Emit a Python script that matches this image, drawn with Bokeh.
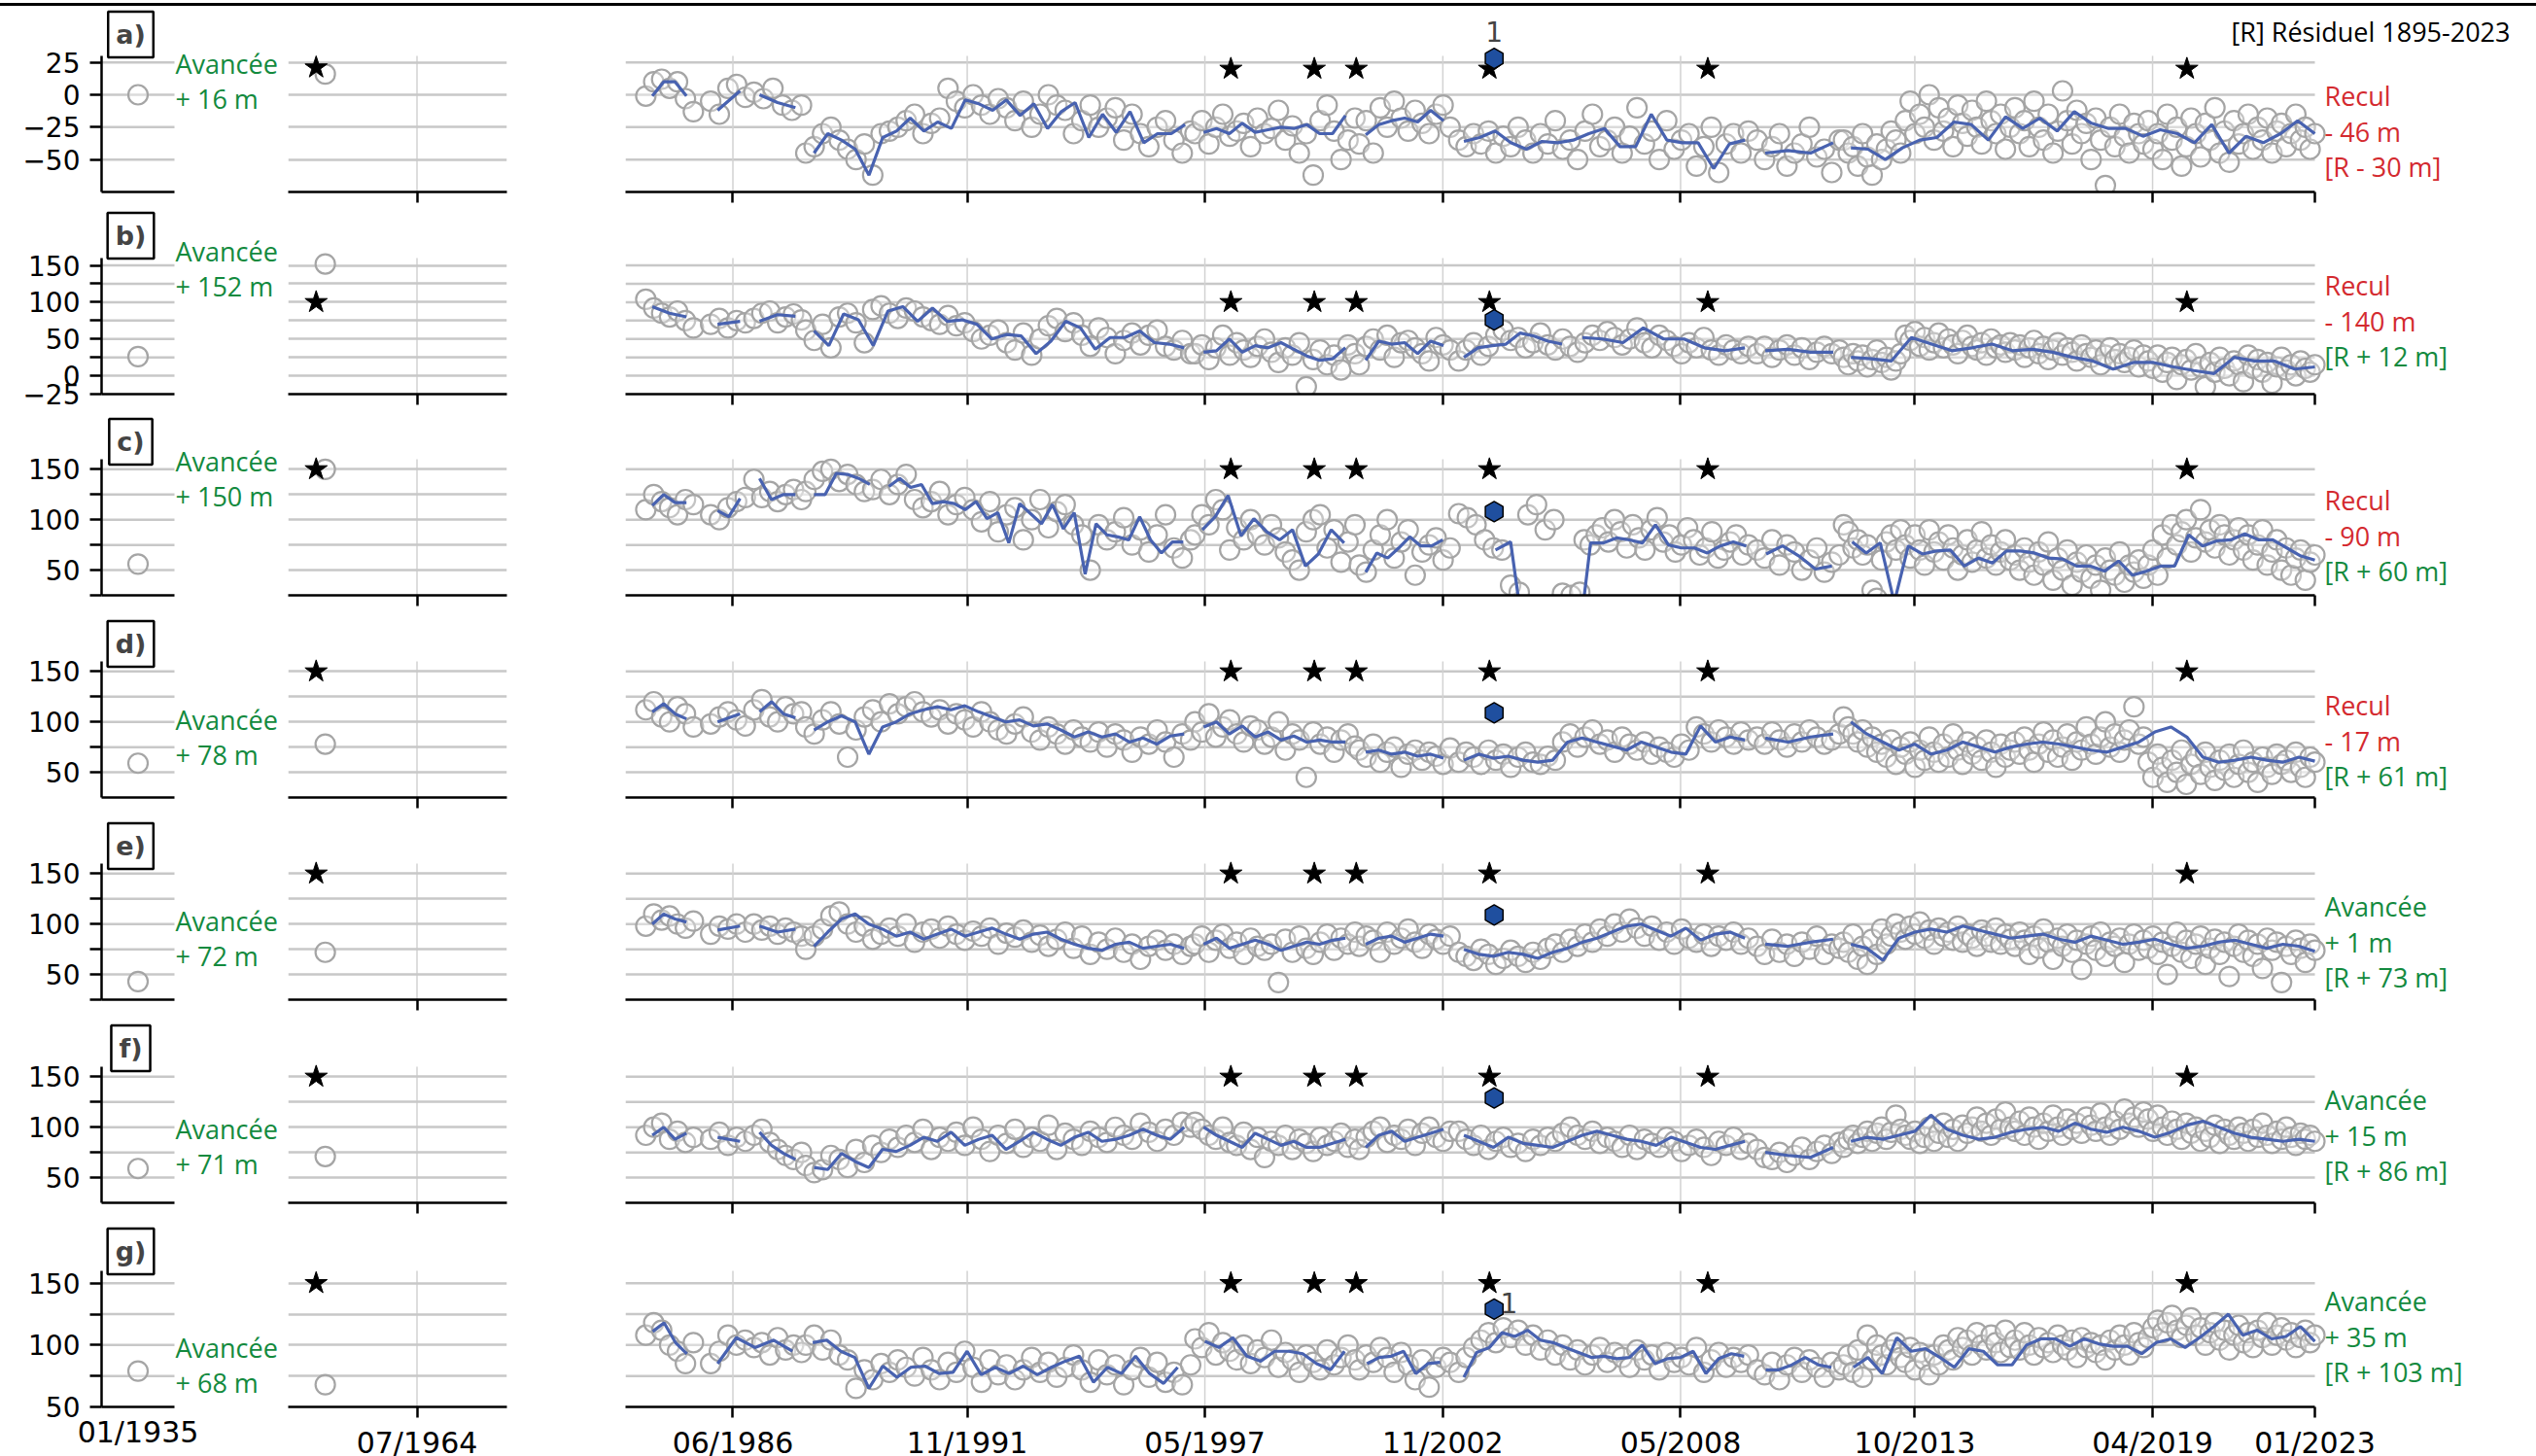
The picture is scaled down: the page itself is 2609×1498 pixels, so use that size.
import numpy as np
from bokeh.plotting import figure
from bokeh.layouts import column, row
from bokeh.models import Range1d, FixedTicker, Label, Div
from bokeh.embed import file_html
from bokeh.resources import INLINE

# ---------------------------------------------------------------- data
panel_ids = ["a", "b", "c", "d", "e", "f", "g"]

# historic front positions (m): 01/1935 survey and the later survey (~1957)
pos_1935 = [0, 26, 56, 59, 43, 59, 79]
advance_to_1957 = [16, 152, 150, 78, 72, 71, 68]
star_1956 = [21, 100, 150, 150, 150, 150, 150]
# net change 1957 -> 2023 (m)
change_to_2023 = [-46, -140, -90, -17, 1, 15, 35]

year_1935 = 1935.0
year_1957 = 1956.95
year_star_hist = 1956.2

star_years = [1997.93, 1999.86, 2000.83, 2003.91, 2008.96, 2020.04]
star_level = [20, 100, 150, 150, 150, 150, 150]
hex_year = 2004.02
hex_level = [28, 76, 108, 109, 109, 129, 129]

main_tick_years = [1986.414, 1991.833, 1997.329, 2002.833, 2008.331, 2013.748, 2019.247, 2023.0]
main_tick_labels = ["06/1986", "11/1991", "05/1997", "11/2002", "05/2008", "10/2013", "04/2019", "01/2023"]

axis_lo = [-75, -25, 25, 25, 25, 25, 50]
axis_hi = [30, 160, 160, 160, 160, 160, 160]
ytick_vals = [
    [-50, -25, 0, 25],
    [-25, 0, 25, 50, 75, 100, 125, 150],
    [25, 50, 75, 100, 125, 150],
    [50, 75, 100, 125, 150],
    [25, 50, 75, 100, 125, 150],
    [50, 75, 100, 125, 150],
    [50, 75, 100, 125, 150],
]
ytick_named = [
    [-50, -25, 0, 25],
    [-25, 0, 50, 100, 150],
    [50, 100, 150], [50, 100, 150], [50, 100, 150], [50, 100, 150], [50, 100, 150],
]
ygrid_vals = [
    [-50, -25, 0, 25],
    [0, 25, 50, 75, 100, 125, 150],
    [50, 75, 100, 125, 150], [50, 75, 100, 125, 150], [50, 75, 100, 125, 150],
    [50, 75, 100, 125, 150], [75, 100, 125, 150],
]

# smoothed front position (segments: start year, end year, values)
trend_a = [
    (1984.55, 1985.34, [-1, 10, 10, -1]),
    (1986.06, 1986.58, [-12, 3]),
    (1987.03, 1987.86, [0, -6, -10]),
    (1988.29, 1996.87, [-45, -30, -35, -42, -62, -33, -28, -18, -28, -21, -26, -4, -7, -12,
                        -4, -16, -7, -26, -13, -6, -33, -15, -29, -13, -37, -30, -30, -23]),
    (1997.30, 2000.58, [-29, -26, -30, -22, -29, -27, -25, -26, -23, -30, -30, -16]),
    (2001.05, 2002.85, [-31, -23, -20, -18, -21, -12, -20]),
    (2003.32, 2009.82, [-36, -33, -28, -37, -42, -36, -37, -35, -30, -26, -40, -40, -15,
                        -35, -37, -37, -57, -38, -35]),
    (2010.29, 2011.86, [-45, -43, -45, -37]),
    (2012.27, 2023.00, [-41, -42, -50, -41, -35, -33, -21, -23, -35, -17, -26, -18, -28, -13,
                        -22, -26, -26, -32, -27, -30, -37, -23, -45, -32, -37, -30, -20, -30]),
]
trend_b = [
    (1984.55, 1985.34, [94, 85, 80]),
    (1986.06, 1986.58, [70, 72, 74]),
    (1987.03, 1987.86, [74, 83, 81]),
    (1988.29, 1996.85, [61, 41, 84, 76, 41, 88, 94, 74, 92, 74, 76, 70, 50, 56, 54, 30, 47,
                        74, 65, 36, 52, 52, 61, 45, 43, 38]),
    (1997.30, 2000.58, [32, 34, 50, 32, 41, 38, 45, 36, 27, 21, 23, 38]),
    (2001.05, 2002.85, [21, 47, 43, 45, 30, 47, 41]),
    (2003.32, 2005.59, [25, 38, 41, 43, 58, 54, 47, 43]),
    (2006.06, 2009.82, [52, 50, 45, 65, 50, 50, 38, 34, 38]),
    (2010.29, 2011.86, [34, 36, 32, 32]),
    (2012.27, 2023.00, [25, 23, 20, 52, 43, 34, 38, 43, 34, 36, 32, 25, 20, 9, 18, 18, 12,
                        7, 3, 25, 20, 20, 9, 12]),
]
trend_c = [
    (1984.55, 1985.34, [114, 125, 117, 117]),
    (1986.06, 1986.58, [109, 103, 121]),
    (1987.03, 1987.86, [141, 120, 125, 125]),
    (1988.29, 1989.58, [125, 125, 146, 145, 141, 135]),
    (1990.02, 1996.83, [133, 141, 132, 135, 116, 118, 116, 110, 118, 101, 107, 77, 116, 106,
                        96, 115, 91, 107, 46, 96, 85, 83, 80, 103, 80, 67, 78, 78]),
    (1997.27, 2000.55, [90, 103, 124, 84, 101, 88, 80, 90, 54, 66, 90, 77]),
    (2001.05, 2002.83, [48, 67, 62, 72, 83, 74, 74, 80]),
    (2004.05, 2004.75, [70, 78, -30]),
    (2005.95, 2009.85, [-30, 77, 77, 82, 80, 77, 95, 75, 72, 72, 67, 74, 78, 74]),
    (2010.31, 2011.83, [66, 74, 64, 51, 54]),
    (2012.30, 2023.00, [78, 67, 77, 18, 74, 66, 69, 70, 54, 62, 57, 69, 69, 67, 62, 61, 54,
                        54, 49, 59, 45, 49, 54, 54, 85, 74, 79, 80, 86, 80, 80, 72, 64, 60]),
]
trend_d = [
    (1984.55, 1985.34, [110, 118, 108, 103]),
    (1986.06, 1986.58, [100, 104, 108]),
    (1987.03, 1987.86, [110, 120, 108, 104]),
    (1988.29, 1996.85, [92, 100, 106, 100, 68, 95, 100, 108, 112, 115, 112, 116, 110, 105,
                        100, 102, 96, 98, 92, 85, 90, 85, 88, 80, 84, 78, 86, 88]),
    (1997.30, 2000.58, [95, 100, 88, 96, 85, 90, 82, 86, 80, 82, 80, 80]),
    (2001.05, 2002.85, [70, 72, 68, 70, 66, 68, 64]),
    (2003.32, 2009.82, [62, 68, 64, 66, 62, 60, 62, 80, 84, 80, 76, 72, 80, 75, 70, 68, 96,
                        80, 85, 82]),
    (2010.29, 2011.86, [84, 80, 85, 88]),
    (2012.27, 2023.00, [100, 88, 80, 72, 78, 68, 72, 80, 75, 70, 75, 78, 80, 78, 75, 72, 70,
                        75, 80, 90, 95, 85, 65, 60, 62, 65, 62, 60, 65, 61]),
]
trend_e = [
    (1984.55, 1985.34, [100, 110, 105, 102]),
    (1986.06, 1986.58, [94, 98]),
    (1987.03, 1987.86, [98, 92, 95]),
    (1988.29, 1996.85, [78, 92, 105, 110, 100, 95, 88, 92, 85, 90, 95, 88, 92, 96, 90, 85,
                        90, 92, 85, 80, 76, 74, 80, 82, 76, 78, 80, 76]),
    (1997.30, 2000.58, [80, 86, 76, 80, 84, 80, 74, 78, 82, 80, 84, 86]),
    (2001.05, 2002.85, [80, 86, 88, 82, 86, 90, 88]),
    (2003.32, 2009.82, [75, 70, 68, 72, 70, 66, 72, 76, 82, 86, 92, 98, 100, 94, 88, 96, 84,
                        90, 92, 86]),
    (2010.29, 2011.86, [80, 78, 82, 85]),
    (2012.27, 2023.00, [80, 76, 64, 86, 92, 95, 92, 98, 94, 90, 86, 88, 90, 85, 82, 88, 84,
                        80, 82, 85, 80, 76, 78, 82, 84, 80, 76, 80, 78, 73]),
]
trend_f = [
    (1984.55, 1985.34, [92, 100, 88, 94]),
    (1986.06, 1986.58, [90, 86]),
    (1987.03, 1987.86, [95, 82, 74, 68]),
    (1988.29, 1996.85, [60, 58, 74, 66, 60, 78, 76, 82, 90, 86, 95, 82, 88, 92, 78, 86, 95,
                        88, 82, 90, 95, 86, 88, 92, 98, 92, 88, 100]),
    (1997.30, 2000.58, [100, 92, 86, 80, 94, 88, 82, 86, 80, 80, 84, 88]),
    (2001.05, 2002.85, [80, 92, 96, 86, 90, 94, 98]),
    (2003.32, 2009.82, [92, 86, 80, 90, 84, 82, 80, 86, 92, 96, 92, 88, 86, 82, 90, 85, 80,
                        78, 82, 86]),
    (2010.29, 2011.86, [75, 72, 70, 80]),
    (2012.27, 2023.00, [86, 90, 88, 92, 96, 112, 98, 92, 88, 90, 95, 98, 100, 96, 104, 98,
                        95, 100, 96, 90, 95, 102, 106, 100, 94, 90, 88, 86, 88, 86]),
]
trend_g = [
    (1984.56, 1985.35, [111, 118, 102, 93]),
    (1986.06, 1987.79, [85, 106, 98, 104, 95]),
    (1988.26, 1996.70, [102, 104, 95, 90, 65, 83, 74, 82, 83, 77, 78, 95, 76, 82, 77, 83,
                        76, 82, 87, 91, 70, 82, 77, 91, 77, 69, 82]),
    (1997.33, 2000.56, [103, 98, 106, 91, 87, 95, 95, 93, 85, 80, 95]),
    (2001.08, 2002.77, [85, 90, 91, 95, 77, 85, 86]),
    (2003.32, 2009.80, [74, 94, 98, 110, 107, 112, 104, 102, 98, 94, 90, 91, 89, 90, 100,
                        85, 89, 90, 95, 77, 89, 93, 91]),
    (2010.30, 2011.82, [80, 80, 84, 90, 84, 82]),
    (2012.33, 2023.00, [82, 90, 77, 106, 95, 97, 90, 82, 97, 95, 84, 84, 100, 105, 105, 99,
                        105, 101, 99, 99, 93, 102, 105, 98, 106, 115, 125, 108, 112, 105,
                        107, 115, 103]),
]

# individual front positions (segments: start year, end year, values)
obs_a = [
    (1984.4, 1985.5, [-1, 10, 12, 5, 10, -3, -13]),
    (1985.9, 1986.7, [-5, -15, 5, 8, -2]),
    (1986.9, 1988.0, [2, -3, 5, -8, -12, -8]),
    (1988.1, 1997.0, [-45, -40, -30, -25, -35, -42, -50, -38, -62, -30, -28, -25, -20, -15,
                      -30, -22, -18, 5, -5, -10, 0, -8, -15, -3, -10, -20, -5, -25, -15, 0,
                      -8, -12, -30, -20, -8, -25, -18, -10, -35, -15, -30, -40, -25, -20,
                      -35, -45, -28]),
    (1997.1, 2000.8, [-30, -20, -38, -25, -15, -32, -28, -22, -40, -18, -30, -26, -12, -35,
                      -24, -45, -30, -62, -20, -8, -28, -50, -35, -18]),
    (2000.9, 2003.0, [-38, -20, -45, -10, -25, -5, -18, -28, -12, -22, -30, -15, -8, -25]),
    (2003.2, 2009.9, [-35, -40, -30, -38, -28, -45, -32, -40, -25, -35, -45, -30, -38, -20,
                      -42, -35, -50, -28, -15, -40, -35, -25, -45, -32, -10, -38, -28, -50,
                      -20, -42, -35, -30, -55, -40, -25, -60, -38, -30, -45, -28]),
    (2010.1, 2012.0, [-35, -50, -40, -30, -55, -45, -38, -25, -48, -42, -60, -35]),
    (2012.1, 2023.0, [-35, -45, -40, -55, -30, -48, -62, -38, -50, -42, -28, -35, -45,
                      -20, -5, -30, -15, -25, 0, -35, -10, -28, -18, -40, -8, -22, -32, -12,
                      -25, -38, -5, -20, -30, -15, -42, -25,
                      -10, -30, -20, -40, -5, -25, -35, -15, -45, -28, 3, -20, -38, -12, -30,
                      -22, -50, -18, -35, -70, -25, -40, -15, -32, -45, -22, -30, -38,
                      -20, -42, -30, -50, -15, -35, -25, -55, -40, -18, -30, -48, -22, -35,
                      -10, -45, -28, -52, -20, -38, -30, -15, -42, -25, -35, -18, -45, -28,
                      -22, -40, -30, -15, -35, -25, -42, -30]),
]
obs_b = [
    (1984.4, 1985.5, [104, 92, 85, 80, 88, 75, 65]),
    (1985.9, 1986.7, [70, 78, 65, 75, 72]),
    (1986.9, 1988.0, [78, 85, 88, 72, 80, 84, 76]),
    (1988.1, 1997.0, [62, 48, 70, 38, 80, 85, 72, 45, 90, 95, 85, 78, 92, 88, 80, 75, 70, 82,
                      68, 72, 60, 50, 55, 62, 45, 35, 58, 28, 50, 68, 78, 60, 72, 55, 40, 65,
                      52, 30, 48, 58, 42, 55, 62, 40, 35, 48, 30]),
    (1997.1, 2000.8, [30, 42, 22, 38, 55, 28, 45, 35, 25, 40, 50, 32, 18, 38, 28, 45, -15,
                      22, 35, 15, 28, 8, 42, 30]),
    (2000.9, 2003.0, [15, 40, 50, 35, 55, 25, 45, 48, 38, 30, 20, 52, 42, 35]),
    (2003.2, 2009.9, [20, 35, 45, 28, 40, 55, 62, 48, 52, 38, 45, 58, 42, 35, 50, 40, 32, 45,
                      55, 48, 60, 52, 42, 50, 65, 45, 38, 55, 48, 40, 30, 45, 38, 52, 35, 28,
                      42, 35, 30, 40]),
    (2010.1, 2012.0, [30, 40, 25, 35, 42, 28, 38, 22, 32, 40, 30, 35]),
    (2012.1, 2023.0, [25, 15, 30, 20, 28, 12, 22, 35, 18, 25, 8, 20, 30,
                      55, 48, 60, 40, 52, 35, 45, 58, 38, 50, 42, 30, 48, 55, 40, 35, 45, 28,
                      50, 38, 42, 32, 45,
                      35, 42, 25, 38, 48, 30, 40, 22, 35, 45, 28, 38, 32, 20, 42, 30, 25, 35,
                      15, 28, 38, 22, 30, 18, 25, 35, 12, 28,
                      20, 10, 28, 5, 18, 25, -5, 15, 22, 8, 30, 12, -15, 18, 5, 25, 10, 0, 20,
                      15, -8, 28, 10, 22, 5, 18, -10, 12, 25, 8, 15, 0, 20, 10, 5, 15]),
]
obs_c = [
    (1984.4, 1985.5, [110, 125, 118, 112, 105, 120, 115]),
    (1985.9, 1986.7, [105, 100, 112, 118, 122]),
    (1986.9, 1988.0, [140, 122, 128, 118, 125, 130, 120]),
    (1988.1, 1997.0, [128, 140, 148, 150, 138, 145, 135, 128, 130, 140, 125, 135, 145, 120,
                      112, 118, 128, 105, 115, 122, 110, 98, 118, 88, 105, 112, 80, 100, 120,
                      92, 108, 115, 95, 85, 50, 95, 80, 88, 102, 75, 90, 68, 85, 105, 72, 62,
                      80]),
    (1997.1, 2000.8, [85, 105, 95, 120, 110, 70, 92, 80, 100, 85, 75, 95, 82, 68, 60, 50, 88,
                      100, 105, 72, 90, 58, 78, 95]),
    (2000.9, 2003.0, [55, 48, 70, 85, 100, 62, 78, 90, 45, 68, 75, 82, 60, 72]),
    (2003.2, 2006.0, [106, 102, 95, 80, 72, 70, 35, 28, 105, 115, 90, 100, 27, 25, 28]),
    (2006.1, 2009.9, [80, 75, 85, 92, 78, 100, 88, 72, 95, 82, 70, 90, 102, 78, 85, 68, 75,
                      92, 80, 65, 72, 88, 62, 70, 78, 85, 65, 75]),
    (2010.1, 2012.0, [70, 62, 80, 55, 75, 68, 50, 60, 72, 48, 58, 65]),
    (2012.1, 2023.0, [95, 88, 72, 80, 65, 75, 30, 22, 60, 78, 85, 70, 90,
                      75, 62, 85, 70, 55, 90, 68, 78, 60, 85, 72, 50, 65, 80, 58, 70, 88, 62,
                      75, 55, 68, 80, 60,
                      65, 50, 72, 58, 45, 68, 55, 78, 40, 62, 50, 70, 35, 58, 48, 65, 42, 55,
                      30, 62, 50, 45, 68, 38, 55, 48, 60, 42,
                      55, 70, 45, 85, 62, 95, 75, 88, 100, 68, 82, 110, 78, 90, 72, 95, 85, 65,
                      80, 92, 70, 85, 60, 75, 90, 55, 68, 80, 50, 72, 45, 62, 70, 40, 58, 65]),
]
obs_d = [
    (1984.4, 1985.5, [112, 120, 105, 100, 115, 108, 95]),
    (1985.9, 1986.7, [98, 105, 110, 102, 96]),
    (1986.9, 1988.0, [112, 122, 105, 100, 115, 108, 110]),
    (1988.1, 1997.0, [95, 88, 102, 110, 98, 65, 92, 105, 112, 100, 118, 108, 115, 120, 110,
                      105, 112, 98, 108, 102, 95, 110, 100, 92, 88, 98, 105, 90, 82, 95, 88,
                      78, 92, 85, 80, 90, 75, 88, 82, 70, 85, 78, 92, 80, 65, 88, 82]),
    (1997.1, 2000.8, [100, 90, 108, 85, 95, 102, 88, 80, 96, 92, 78, 85, 100, 72, 88, 82, 45,
                      90, 78, 85, 70, 82, 88, 76]),
    (2000.9, 2003.0, [72, 65, 78, 60, 70, 75, 55, 68, 72, 62, 70, 66, 58, 74]),
    (2003.2, 2009.9, [60, 70, 65, 58, 72, 62, 68, 55, 65, 70, 60, 58, 66, 62, 80, 88, 75, 85,
                      92, 78, 82, 70, 85, 78, 72, 80, 68, 75, 70, 65, 78, 72, 95, 88, 80, 92,
                      85, 78, 90, 82]),
    (2010.1, 2012.0, [85, 78, 90, 82, 75, 88, 80, 92, 85, 78, 82, 88]),
    (2012.1, 2023.0, [105, 95, 88, 80, 92, 75, 85, 70, 78, 65, 82, 58, 75,
                      68, 80, 55, 72, 62, 85, 70, 60, 78, 65, 88, 72, 58, 80, 68, 75, 62, 82,
                      70, 55, 78, 65, 72,
                      80, 68, 85, 72, 60, 78, 90, 70, 82, 65, 75, 88, 62, 80, 72, 95, 78, 68,
                      85, 100, 75, 88, 70, 82, 92, 115, 78, 85,
                      60, 45, 68, 55, 40, 62, 50, 72, 38, 58, 65, 48, 70, 55, 42, 62, 52, 68,
                      45, 58, 72, 50, 60, 40, 65, 55, 48, 68, 58, 62, 50, 70, 55, 45, 65, 60]),
]
obs_e = [
    (1984.4, 1985.5, [98, 110, 104, 108, 100, 96, 103]),
    (1985.9, 1986.7, [90, 98, 95, 100, 92]),
    (1986.9, 1988.0, [100, 94, 98, 90, 96, 92, 88]),
    (1988.1, 1997.0, [75, 88, 95, 108, 112, 100, 92, 98, 85, 90, 96, 88, 100, 82, 92, 95, 86,
                      98, 90, 84, 93, 88, 96, 80, 91, 87, 94, 82, 89, 78, 85, 92, 76, 88, 70,
                      82, 75, 86, 72, 80, 65, 78, 84, 74, 80, 70, 78]),
    (1997.1, 2000.8, [80, 88, 72, 84, 90, 76, 82, 70, 86, 78, 74, 80, 42, 85, 72, 88, 76, 70,
                      82, 90, 74, 86, 80, 92]),
    (2000.9, 2003.0, [78, 88, 84, 72, 92, 80, 86, 95, 82, 76, 90, 85, 80, 88]),
    (2003.2, 2009.9, [72, 68, 64, 75, 70, 60, 66, 74, 68, 62, 72, 65, 76, 80, 72, 85, 78, 90,
                      82, 95, 88, 100, 92, 105, 96, 88, 98, 84, 92, 80, 95, 86, 82, 90, 78, 88,
                      84, 92, 80, 86]),
    (2010.1, 2012.0, [78, 70, 85, 72, 80, 68, 82, 75, 88, 70, 80, 76]),
    (2012.1, 2023.0, [82, 72, 90, 65, 78, 60, 85, 70, 95, 80, 88, 100, 92,
                      85, 98, 90, 102, 86, 94, 80, 96, 88, 92, 84, 98, 82, 90, 86, 78, 94, 88,
                      82, 96, 80, 90, 85,
                      78, 92, 84, 70, 88, 76, 95, 82, 65, 86, 78, 90, 72, 84, 55, 80, 88, 74,
                      92, 68, 82, 78, 86, 62, 80, 90, 74, 84,
                      76, 88, 70, 82, 50, 78, 92, 72, 84, 66, 80, 88, 60, 76, 85, 70, 82, 48,
                      78, 90, 72, 84, 68, 80, 56, 86, 74, 82, 42, 78, 70, 84, 76, 62, 80, 74]),
]
obs_f = [
    (1984.4, 1985.5, [92, 100, 104, 88, 96, 85, 90]),
    (1985.9, 1986.7, [88, 95, 82, 90, 86]),
    (1986.9, 1988.0, [92, 98, 85, 78, 72, 68, 75]),
    (1988.1, 1997.0, [62, 55, 58, 72, 68, 60, 78, 65, 82, 75, 88, 80, 92, 85, 98, 78, 90, 86,
                      95, 82, 100, 88, 76, 92, 84, 98, 80, 90, 86, 102, 78, 94, 88, 82, 96, 90,
                      85, 100, 92, 88, 104, 95, 86, 98, 92, 105, 100]),
    (1997.1, 2000.8, [105, 98, 92, 88, 100, 85, 82, 95, 78, 90, 70, 86, 82, 92, 78, 88, 84,
                      76, 90, 82, 86, 94, 80, 88]),
    (2000.9, 2003.0, [78, 90, 96, 100, 85, 92, 88, 98, 82, 94, 100, 90, 86, 96]),
    (2003.2, 2009.9, [96, 88, 82, 92, 78, 86, 90, 80, 84, 76, 88, 82, 90, 86, 94, 100, 92, 88,
                      96, 84, 90, 86, 80, 92, 78, 88, 84, 80, 90, 86, 76, 82, 88, 80, 72, 86,
                      82, 90, 78, 84]),
    (2010.1, 2012.0, [78, 70, 68, 75, 65, 72, 80, 68, 76, 82, 74, 85]),
    (2012.1, 2023.0, [80, 88, 92, 84, 90, 96, 86, 94, 100, 88, 95, 112, 98,
                      92, 88, 96, 84, 90, 100, 86, 94, 104, 90, 98, 86, 102, 94, 100, 110, 96,
                      104, 92, 108, 98, 115, 100,
                      96, 106, 92, 110, 100, 88, 104, 96, 112, 100, 92, 108, 98, 104, 94, 110,
                      102, 96, 114, 100, 92, 106, 98, 118, 104, 110, 100, 115,
                      108, 96, 112, 100, 92, 106, 98, 88, 104, 94, 100, 86, 96, 90, 102, 84,
                      98, 92, 88, 100, 94, 86, 98, 90, 104, 92, 84, 96, 88, 100, 90, 82, 94,
                      88, 92, 86]),
]
obs_g = [
    (1984.4, 1985.5, [108, 118, 112, 100, 95, 85, 102]),
    (1985.9, 1986.7, [85, 95, 108, 100, 104]),
    (1986.9, 1988.0, [98, 102, 92, 106, 96, 100, 94]),
    (1988.1, 1997.0, [100, 108, 96, 104, 92, 88, 65, 80, 72, 85, 78, 88, 82, 75, 90, 80, 72,
                      86, 78, 95, 82, 70, 88, 76, 84, 72, 80, 90, 78, 86, 74, 82, 92, 80, 70,
                      88, 76, 84, 68, 80, 90, 74, 86, 70, 78, 68, 84]),
    (1997.1, 2000.8, [105, 98, 110, 92, 102, 95, 88, 100, 85, 96, 90, 104, 82, 94, 88, 78, 92,
                      86, 80, 96, 84, 90, 100, 88]),
    (2000.9, 2003.0, [80, 92, 86, 98, 90, 78, 94, 84, 72, 88, 66, 82, 90, 86]),
    (2003.2, 2009.9, [78, 90, 98, 104, 110, 102, 114, 106, 112, 100, 108, 96, 104, 92, 100,
                      88, 96, 84, 92, 98, 86, 94, 90, 82, 96, 88, 92, 80, 94, 86, 90, 84, 98,
                      78, 88, 94, 82, 90, 86, 92]),
    (2010.1, 2012.0, [80, 76, 86, 72, 84, 90, 78, 88, 82, 74, 86, 80]),
    (2012.1, 2023.0, [84, 92, 78, 96, 74, 108, 88, 100, 92, 84, 96, 102, 90,
                      86, 98, 80, 94, 88, 76, 92, 84, 100, 96, 88, 106, 98, 104, 92, 110, 100,
                      96, 108, 102, 94, 112, 98,
                      104, 96, 110, 100, 92, 106, 98, 102, 94, 108, 100, 96, 104, 90, 106, 98,
                      102, 94, 100, 88, 104, 96, 108, 100, 92, 110, 102, 98,
                      106, 114, 120, 110, 118, 124, 112, 106, 116, 122, 108, 114, 100, 110,
                      118, 104, 112, 96, 108, 116, 102, 110, 98, 112, 106, 118, 100, 108, 114,
                      104, 110, 98, 106, 112, 102, 108]),
]
trends = [trend_a, trend_b, trend_c, trend_d, trend_e, trend_f, trend_g]
observations = [obs_a, obs_b, obs_c, obs_d, obs_e, obs_f, obs_g]

# ---------------------------------------------------------------- layout
FRAME_H = 190
AXIS_H = 140
ROW_TOP = [7, 209, 422, 624, 832, 1040, 1249]
FRAME_BOTTOM = [197, 405, 612, 820, 1028, 1237, 1447]

# left panel: axes span 1933-1937, frame widened to hold the labels beside it
LEFT_AX, LEFT_PX0, LEFT_PPY = (1933.0, 1937.0), 104, 75 / 4.0
LEFT_FW = 192
LEFT_X = (1933.0, 1933.0 + LEFT_FW / LEFT_PPY)
MID_X, MID_FW, MID_PX0 = (1953.9, 1971.9), 225, 296
# main panel: axes span to 01/2023, frame widened to hold the labels on the right
MAIN_AX, MAIN_PX0, MAIN_PPY = (1983.93, 2023.0), 643, 1738 / (2023.0 - 1983.93)
MAIN_FW = 1966
MAIN_X = (1983.93, 1983.93 + MAIN_FW / MAIN_PPY)

GREEN = "#138a3e"
RED = "#d42a2f"
GRID = "#c8c8c8"
VGRID = "#d2d2d2"
CIRCLE = "#a5a5a5"
BLUE = "#4862b0"
TEXT_FONT = "Open Sans"
TICK_FONT = "DejaVu Sans"

left_text_y = [65, 258, 474, 740, 947, 1161, 1386]
right_text_y = [98, 293, 514, 725, 932, 1131, 1338]
box_y = [35, 242, 454, 662, 870, 1078, 1287]


def seg_xy(segments, gaps=True):
    xs, ys = [], []
    for x0, x1, vals in segments:
        xs.extend(np.linspace(x0, x1, len(vals)).tolist())
        ys.extend(vals)
        if gaps:
            xs.append(np.nan)
            ys.append(np.nan)
    return xs, ys


def style_axis(ax, size="28px"):
    ax.axis_line_width = 2.5
    ax.axis_line_color = "black"
    ax.major_tick_line_width = 2.5
    ax.major_tick_line_color = "black"
    ax.major_tick_in = 0
    ax.major_tick_out = 11
    ax.minor_tick_line_color = None
    ax.major_label_text_font = TICK_FONT
    ax.major_label_text_font_size = size
    ax.major_label_text_color = "black"


def make_fig(i, xr, fw, mb_left, mb_right, with_y, x_bounds=None, own_hgrid=None):
    lo, hi = axis_lo[i], axis_hi[i]
    y_end = lo + (hi - lo) * FRAME_H / AXIS_H
    last = i == len(panel_ids) - 1
    tb = FRAME_BOTTOM[i] - FRAME_H - ROW_TOP[i]
    bb = 51 if last else ROW_TOP[i + 1] - FRAME_BOTTOM[i]
    p = figure(frame_width=fw, frame_height=FRAME_H,
               x_range=Range1d(*xr), y_range=Range1d(lo, y_end),
               min_border_left=mb_left, min_border_right=mb_right,
               min_border_top=tb, min_border_bottom=bb,
               y_axis_location="left" if with_y else None,
               output_backend="svg", toolbar_location=None)
    p.outline_line_color = None
    p.background_fill_color = "white"
    p.border_fill_color = "white"
    p.xgrid.grid_line_color = None
    if own_hgrid is None:
        p.ygrid.ticker = FixedTicker(ticks=ygrid_vals[i])
        p.ygrid.grid_line_color = GRID
        p.ygrid.grid_line_width = 2.5
    else:
        p.ygrid.grid_line_color = None
        g = ygrid_vals[i]
        p.segment(x0=[own_hgrid[0]] * len(g), y0=g, x1=[own_hgrid[1]] * len(g), y1=g,
                  line_color=GRID, line_width=2.5, level="underlay")
    xa = p.xaxis[0]
    style_axis(xa, "30px")
    if x_bounds is not None:
        xa.bounds = x_bounds
    if not last:
        xa.major_label_text_font_size = "0px"
        xa.major_label_text_color = None
        xa.major_label_standoff = 0
    else:
        xa.major_label_standoff = 8
    if with_y:
        ya = p.yaxis[0]
        style_axis(ya)
        ya.ticker = FixedTicker(ticks=ytick_vals[i])
        ya.major_label_standoff = 10
        ya.bounds = (lo, hi)
        ya.major_tick_out = 12
        ya.major_label_overrides = {
            v: (str(v).replace("-", "\u2212") if v in ytick_named[i] else "")
            for v in ytick_vals[i]}
    return p, lo, y_end


def ydata(i, lo, y_end, pix):
    return lo + (FRAME_BOTTOM[i] - pix) / FRAME_H * (y_end - lo)


def xdata(x0, ppy, px0, pix):
    return x0 + (pix - px0) / ppy


def circles(p, xs, ys):
    p.scatter(xs, ys, marker="circle", size=20, line_color=CIRCLE, line_width=2.2,
              fill_color="white", fill_alpha=0.35)


def stars(p, xs, ys):
    p.scatter(xs, ys, marker="star", size=24, color="black")


def signed(v):
    return ("+ " if v >= 0 else "- ") + f"{abs(v)} m"


rows = []
for i, pid in enumerate(panel_ids):
    last = i == len(panel_ids) - 1
    hi = axis_hi[i]
    lo = axis_lo[i]
    adv = advance_to_1957[i]

    # ---- 1935 survey panel
    pl, _, ye = make_fig(i, LEFT_X, LEFT_FW, LEFT_PX0, 0, True,
                         x_bounds=LEFT_AX, own_hgrid=LEFT_AX)
    pl.xaxis.ticker = FixedTicker(ticks=[year_1935])
    pl.xaxis.major_label_overrides = {year_1935: "01/1935"}
    pl.xaxis.major_tick_out = 0
    circles(pl, [year_1935], [pos_1935[i]])
    pl.add_layout(Label(x=xdata(LEFT_X[0], LEFT_PPY, LEFT_PX0, 134),
                        y=ydata(i, lo, ye, box_y[i]),
                        text=f"{pid})", text_font=TICK_FONT, text_font_size="27px",
                        text_font_style="bold", text_align="center", text_baseline="middle",
                        border_line_color="black", border_line_width=2.5,
                        background_fill_color="white", padding=8))
    lx = xdata(LEFT_X[0], LEFT_PPY, LEFT_PX0, 180)
    for k, txt in enumerate(["Avancée", signed(adv)]):
        pl.add_layout(Label(x=lx, y=ydata(i, lo, ye, left_text_y[i] + 36 * k), text=txt,
                            text_font=TEXT_FONT, text_font_size="27px",
                            text_color=GREEN if adv >= 0 else RED,
                            text_align="left", text_baseline="middle"))

    # ---- ~1957 survey panel
    pm, _, ye = make_fig(i, MID_X, MID_FW, 0, 122, False)
    pm.xaxis.ticker = FixedTicker(ticks=[1964.5])
    pm.xaxis.major_label_overrides = {1964.5: "07/1964"}
    pm.segment(x0=[1964.5], y0=[lo], x1=[1964.5], y1=[hi], line_color=VGRID,
               line_width=1.5, level="underlay")
    circles(pm, [year_1957], [adv])
    stars(pm, [year_star_hist], [star_1956[i]])

    # ---- 1984-2023 satellite panel
    pr, _, ye = make_fig(i, MAIN_X, MAIN_FW, 0, 0, False,
                         x_bounds=MAIN_AX, own_hgrid=MAIN_AX)
    pr.xaxis.ticker = FixedTicker(ticks=main_tick_years)
    pr.xaxis.major_label_overrides = dict(zip(main_tick_years, main_tick_labels))
    vg = main_tick_years[:-1]
    pr.segment(x0=vg, y0=[lo] * len(vg), x1=vg, y1=[hi] * len(vg), line_color=VGRID,
               line_width=1.5, level="underlay")
    ox, oy = seg_xy(observations[i], gaps=False)
    circles(pr, ox, oy)
    tx, ty = seg_xy(trends[i])
    pr.line(tx, ty, line_color=BLUE, line_width=3.2)
    stars(pr, star_years, [star_level[i]] * len(star_years))
    pr.scatter([hex_year], [hex_level[i]], marker="hex", angle=np.pi / 2, size=21,
               fill_color="#1f4f9f", line_color="black", line_width=1.5)

    chg = change_to_2023[i]
    final = adv + chg
    rx = xdata(MAIN_X[0], MAIN_PPY, MAIN_PX0, 2391)
    right_lines = [("Recul" if chg < 0 else "Avancée", RED if chg < 0 else GREEN),
                   (signed(chg), RED if chg < 0 else GREEN),
                   ("[R " + signed(final) + "]", RED if final < 0 else GREEN)]
    for k, (txt, col) in enumerate(right_lines):
        pr.add_layout(Label(x=rx, y=ydata(i, lo, ye, right_text_y[i] + 36.5 * k), text=txt,
                            text_font=TEXT_FONT, text_font_size="27px", text_color=col,
                            text_align="left", text_baseline="middle"))
    if i == 0:
        pr.add_layout(Label(x=xdata(MAIN_X[0], MAIN_PPY, MAIN_PX0, 2582),
                            y=ydata(i, lo, ye, 32),
                            text="[R] Résiduel 1895-2023", text_font=TEXT_FONT,
                            text_font_size="27px", text_color="black",
                            text_align="right", text_baseline="middle"))
        pr.add_layout(Label(x=hex_year, y=ydata(i, lo, ye, 32), text="1",
                            text_font=TICK_FONT, text_font_size="28px",
                            text_align="center", text_baseline="middle"))
    if last:
        pr.add_layout(Label(x=xdata(MAIN_X[0], MAIN_PPY, MAIN_PX0, 1543),
                            y=ydata(i, lo, ye, 1340),
                            text="1", text_font=TICK_FONT, text_font_size="28px",
                            text_align="left", text_baseline="middle"))

    rows.append(row(pl, pm, pr, spacing=0))

# thin black rule across the top of the page
bar = Div(text="", width=2609, height=3, margin=(3, 0, 1, 0),
          styles={"background-color": "#000000"})

layout = column(bar, *rows, spacing=0)
open("out.html", "w").write(file_html(layout, INLINE))
